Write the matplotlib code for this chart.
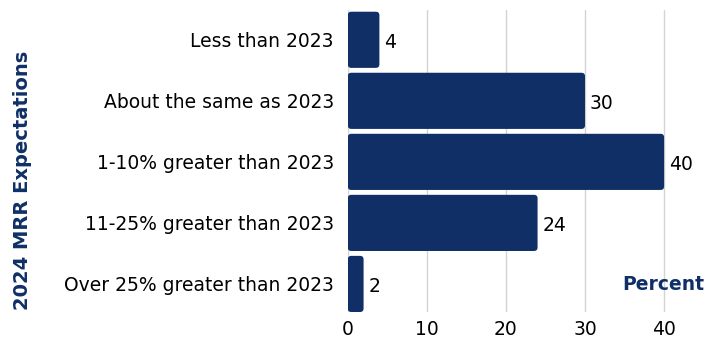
import matplotlib
matplotlib.use("Agg")
import matplotlib.pyplot as plt
from matplotlib.patches import FancyBboxPatch

categories = ["Less than 2023", "About the same as 2023", "1-10% greater than 2023",
              "11-25% greater than 2023", "Over 25% greater than 2023"]
values = [4, 30, 40, 24, 2]
xticks = [0, 10, 20, 30, 40]

navy = "#0f2f66"
plt.rcParams['font.family'] = ['DejaVu Sans']

fig = plt.figure(figsize=(7.23, 3.41), dpi=100)
ax = fig.add_axes([0.481, 0.085, 0.982 - 0.481, 0.886])

pos = list(range(len(categories)))
bars = ax.barh(pos, values, height=0.92, color=navy)
for b in bars:
    x, y, w, h = b.get_x(), b.get_y(), b.get_width(), b.get_height()
    b.set_visible(False)
    p = FancyBboxPatch((x, y), w, h, boxstyle="round,pad=0,rounding_size=0.45",
                       mutation_aspect=0.13, facecolor=navy, edgecolor='none', zorder=3)
    ax.add_patch(p)
for p_, v in zip(pos, values):
    ax.text(v + 0.6, p_ + 0.05, str(v), va='center', ha='left', fontsize=13.5,
            color='black', zorder=4)

ax.set_xlim(0, 45.8)
ax.set_ylim(4.46, -0.49)
ax.set_xticks(xticks)
ax.set_xticklabels([str(t) for t in xticks], fontsize=13.5)
ax.set_yticks(pos)
ax.set_yticklabels(categories, fontsize=13.5)
ax.tick_params(length=0, pad=10)
ax.tick_params(axis='x', pad=6)
ax.grid(axis='x', color='#d4d4d4', linewidth=1, zorder=0)
ax.set_axisbelow(True)
for s in ax.spines.values():
    s.set_visible(False)

ax.text(0.985, 0.09, "Percent", transform=ax.transAxes, ha='right', va='center',
        fontsize=13.5, fontweight='bold', color=navy)
fig.text(0.031, 0.472, "2024 MRR Expectations", rotation=90, ha='center', va='center',
         fontsize=14, fontweight='bold', color=navy)

fig.savefig("out.png", dpi=100)
